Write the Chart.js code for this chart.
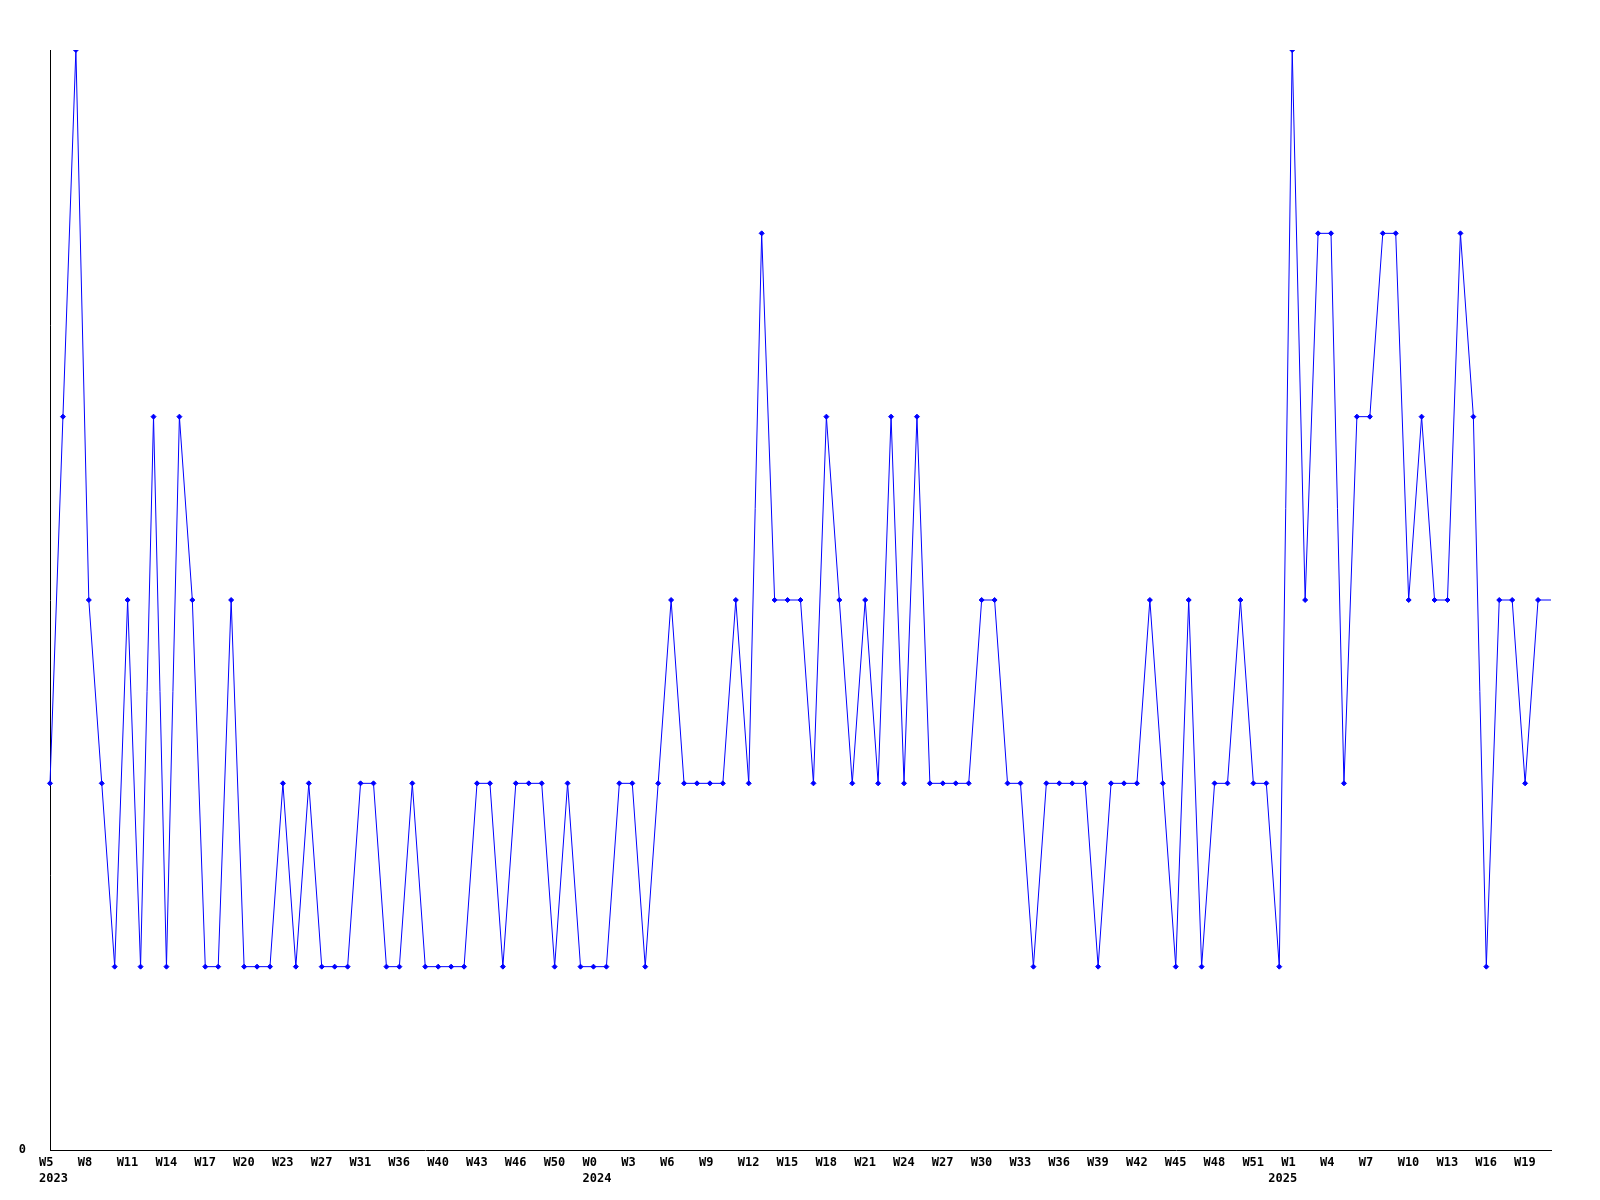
<!DOCTYPE html>
<html>
<head>
<meta charset="utf-8">
<title>Weekly chart</title>
<script src="https://cdn.jsdelivr.net/npm/chart.js@4/dist/chart.umd.min.js"></script>
<style>
  html, body { margin: 0; padding: 0; background: #fff; }
  #wrap { width: 1600px; height: 1200px; position: relative; }
</style>
</head>
<body>
<div id="wrap"><canvas id="weekChart"></canvas></div>
<script>
// Valores semanais (um por ponto)
const values = [
  2, 4, 6, 3, 2, 1, 3, 1, 4, 1, 4, 3, 1, 1, 3, 1, 1, 1, 2, 1, 2, 1, 1, 1,
  2, 2, 1, 1, 2, 1, 1, 1, 1, 2, 2, 1, 2, 2, 2, 1, 2, 1, 1, 1, 2, 2, 1, 2,
  3, 2, 2, 2, 2, 3, 2, 5, 3, 3, 3, 2, 4, 3, 2, 3, 2, 4, 2, 4, 2, 2, 2, 2,
  3, 3, 2, 2, 1, 2, 2, 2, 2, 1, 2, 2, 2, 3, 2, 1, 3, 1, 2, 2, 3, 2, 2, 1,
  6, 3, 5, 5, 2, 4, 4, 5, 5, 3, 4, 3, 3, 5, 4, 1, 3, 3, 2, 3, 3
];

// Rótulos das semanas no eixo X (um a cada 3 pontos)
const tickLabels = [
  "W5", "W8", "W11", "W14", "W17", "W20", "W23", "W27", "W31", "W36",
  "W40", "W43", "W46", "W50",
  "W0", "W3", "W6", "W9", "W12", "W15", "W18", "W21", "W24", "W27",
  "W30", "W33", "W36", "W39", "W42", "W45", "W48", "W51",
  "W1", "W4", "W7", "W10", "W13", "W16", "W19"
];
const tickStep = 3;

// Anos (segunda linha) e o ponto onde cada um começa
const yearLabels = ["2023", "2024", "2025"];
const yearStarts = [0, 42, 95];

const categories = values.map((v, i) => i);

const font = { family: "'DejaVu Sans Mono', monospace", size: 12, weight: "bold", lineHeight: 1.35 };

function xLabel(i) {
  const week = i % tickStep === 0 ? tickLabels[i / tickStep] : "";
  const y = yearStarts.indexOf(i);
  if (y >= 0) return [week, yearLabels[y]];
  return week || null;
}

new Chart(document.getElementById("weekChart"), {
  type: "line",
  data: {
    labels: categories,
    datasets: [
      {
        data: values,
        borderColor: "#0000ff",
        backgroundColor: "#0000ff",
        borderWidth: 1,
        tension: 0,
        pointStyle: "rectRot",
        // o último ponto (semana em curso) não tem marcador
        pointRadius: (ctx) => (ctx.dataIndex === values.length - 1 ? 0 : 2.5),
        pointBorderWidth: 1,
        pointBorderColor: "#0000ff",
      },
    ],
  },
  options: {
    responsive: true,
    maintainAspectRatio: false,
    animation: false,
    layout: { padding: { top: 50, right: 49, left: 0, bottom: 0 } },
    plugins: {
      legend: { display: false },
      tooltip: { enabled: false },
    },
    scales: {
      x: {
        type: "category",
        offset: false,
        grid: { display: false, drawTicks: false },
        border: { display: true, color: "#000", width: 1 },
        ticks: {
          autoSkip: false,
          maxRotation: 0,
          minRotation: 0,
          align: "start",
          labelOffset: -11,
          padding: 5,
          color: "#000",
          font: font,
          callback: (val, i) => xLabel(i),
        },
        afterFit: (scale) => {
          scale.height = 50;
        },
      },
      y: {
        min: 0,
        max: 6,
        grid: { display: false, drawTicks: false },
        border: { display: true, color: "#000", width: 1 },
        ticks: {
          padding: 24,
          color: "#000",
          font: font,
        },
        afterBuildTicks: (scale) => {
          scale.ticks = [{ value: 0 }];
        },
        afterFit: (scale) => {
          scale.width = 50;
        },
      },
    },
  },
});
</script>
</body>
</html>
